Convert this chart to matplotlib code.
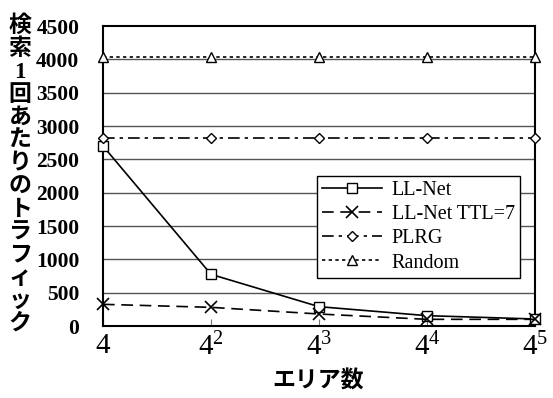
import matplotlib
matplotlib.use('Agg')
from matplotlib import pyplot as plt
import numpy as np

plt.rcParams['mathtext.fontset'] = 'custom'
plt.rcParams['mathtext.rm'] = 'Liberation Serif'
plt.rcParams['mathtext.it'] = 'Liberation Serif'

areas = [4, 16, 64, 256, 1024]
xlabels = ['$4$', '$4^2$', '$4^3$', '$4^4$', '$4^5$']
llnet = [2700, 775, 290, 155, 105]
llnet_ttl7 = [325, 280, 180, 100, 100]
plrg = [2815, 2815, 2815, 2815, 2815]
rand = [4030, 4030, 4030, 4030, 4030]
yticks = [0, 500, 1000, 1500, 2000, 2500, 3000, 3500, 4000, 4500]

fig = plt.figure(figsize=(5.53, 3.98), dpi=100)
ax = fig.add_axes([103/553, 1-326/398, 432/553, 300/398])

ax.set_xscale('log', base=4)
ax.set_xlim(4, 1024)
ax.set_ylim(0, 4500)

for v in yticks[1:-1]:
    ax.axhline(v, color='#555555', lw=1.0, zorder=1)

ax.plot(areas, llnet, color='black', lw=1.2, marker='s', ms=6.5, mfc='white', mec='black', mew=1.0, label='LL-Net', zorder=3, clip_on=False)
ax.plot(areas, llnet_ttl7, color='black', lw=1.2, ls=(0, (7, 4)), marker='x', ms=9, mew=1.2, label='LL-Net TTL=7', zorder=3, clip_on=False)
ax.plot(areas, plrg, color='black', lw=1.2, ls=(0, (7, 3, 2, 3)), marker='D', ms=5, mfc='white', mec='black', mew=1.0, label='PLRG', zorder=3, clip_on=False)
ax.plot(areas, rand, color='black', lw=1.2, ls=(0, (2, 2)), marker='^', ms=7, mfc='white', mec='black', mew=1.0, label='Random', zorder=3, clip_on=False)

ax.set_xticks(areas)
ax.set_xticklabels(xlabels, fontsize=21, family='Liberation Serif')
ax.xaxis.set_minor_locator(matplotlib.ticker.NullLocator())
ax.tick_params(axis='x', direction='in', length=5, color='#777777', pad=5)
ax.set_yticks(yticks)
ax.set_yticklabels([str(v) for v in yticks], fontsize=15.5, family='Liberation Serif', fontweight='bold')
ax.tick_params(axis='y', length=0, pad=17)

for s in ax.spines.values():
    s.set_linewidth(1.5)
    s.set_color('black')

leg = ax.legend(loc='upper left', bbox_to_anchor=(214/432, 150/300), prop={'family': 'Liberation Serif', 'size': 14.5},
                frameon=True, fancybox=False, edgecolor='black', framealpha=1, borderpad=0.25,
                labelspacing=0.25, handlelength=3.0, handletextpad=0.45, borderaxespad=0)
leg.get_frame().set_linewidth(1.0)

ylab = '\n'.join('検索1回あたりのトラフィック')
fig.text(20/553, 1-175/398, ylab, fontsize=16.5, fontweight='bold', family=['Liberation Serif', 'Noto Sans CJK JP'],
         ha='center', va='center', linespacing=1.12)
fig.text(318/553, 1-381/398, 'エリア数', fontsize=16.5, fontweight='bold', family=['Noto Sans CJK JP', 'DejaVu Sans'],
         ha='center', va='center')

fig.savefig('out.png', dpi=100)
